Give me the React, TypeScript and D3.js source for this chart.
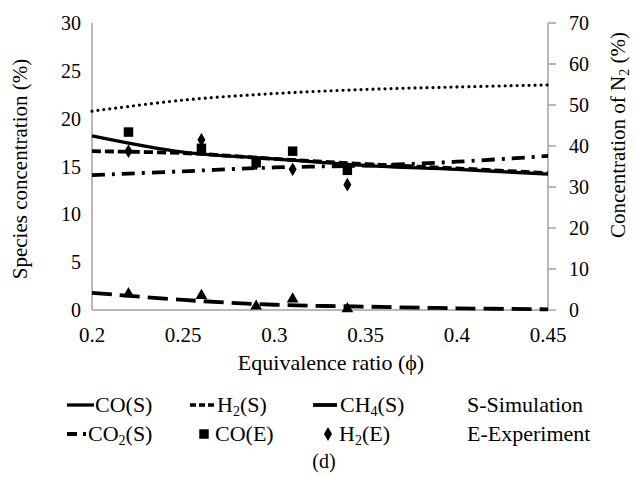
import * as d3 from 'd3'

const W = 634
const H = 477

// Simulation curves (S)
const phiSim = [0.2, 0.25, 0.3, 0.35, 0.4, 0.45]
const coSim = [18.2, 16.5, 15.8, 15.1, 14.7, 14.2]
const h2Sim = [16.6, 16.4, 15.8, 15.25, 14.8, 14.3]
const ch4Sim = [1.8, 1.05, 0.55, 0.35, 0.18, 0.07]
const co2Sim = [14.1, 14.5, 14.9, 15.1, 15.5, 16.1]
const n2Sim = [48.5, 51.2, 52.8, 53.8, 54.4, 54.9]

// Experiment points (E)
const phiExp = [0.22, 0.26, 0.29, 0.31, 0.34]
const coExp = [18.6, 16.9, 15.4, 16.6, 14.6]
const h2Exp = [16.6, 17.8, 15.3, 14.7, 13.1]
const ch4Exp = [1.7, 1.5, 0.4, 1.15, 0.12]

const xTicks = [0.2, 0.25, 0.3, 0.35, 0.4, 0.45]
const xTickLabels = ['0.2', '0.25', '0.3', '0.35', '0.4', '0.45']
const yLeftTicks = [0, 5, 10, 15, 20, 25, 30]
const yRightTicks = [0, 10, 20, 30, 40, 50, 60, 70]

const FONT = 'Liberation Serif'
const AXIS = '#a0a0a0'

export default function App() {
  const x = d3.scaleLinear().domain([0.2, 0.45]).range([92, 548])
  const yL = d3.scaleLinear().domain([0, 30]).range([310, 23])
  const yR = d3.scaleLinear().domain([0, 70]).range([310, 23])

  const curve = d3.curveCatmullRom.alpha(0.5)
  const lineL = (vals: number[]) =>
    d3
      .line<number>()
      .x((_, i) => x(phiSim[i]))
      .y((d) => yL(d))
      .curve(curve)(vals) || ''
  const lineR = (vals: number[]) =>
    d3
      .line<number>()
      .x((_, i) => x(phiSim[i]))
      .y((d) => yR(d))
      .curve(curve)(vals) || ''

  const square = d3.symbol(d3.symbolSquare, 90)() || ''
  const diamond = d3.symbol(d3.symbolDiamond, 55)() || ''
  const triangle = d3.symbol(d3.symbolTriangle, 60)() || ''

  const T = (props: any) => <text fontFamily={FONT} fill="#000" {...props} />

  return (
    <svg width={W} height={H} style={{ position: 'absolute', left: 0, top: 0, background: '#fff' }}>
      {/* axes */}
      <line x1={x(0.2)} x2={x(0.2)} y1={yL(30)} y2={yL(0)} stroke={AXIS} strokeWidth={1.5} />
      <line x1={x(0.2)} x2={x(0.45)} y1={yL(0)} y2={yL(0)} stroke={AXIS} strokeWidth={1.5} />
      <line x1={x(0.45)} x2={x(0.45)} y1={yR(70)} y2={yR(0)} stroke={AXIS} strokeWidth={1.5} />
      {yRightTicks.map((t) => (
        <line key={t} x1={x(0.45)} x2={x(0.45) + 8} y1={yR(t)} y2={yR(t)} stroke={AXIS} strokeWidth={1.5} />
      ))}

      {yLeftTicks.map((t) => (
        <T key={t} x={81} y={yL(t) + 7} textAnchor="end" fontSize={20}>
          {t}
        </T>
      ))}
      {yRightTicks.map((t) => (
        <T key={t} x={569} y={yR(t) + 7} textAnchor="start" fontSize={20}>
          {t}
        </T>
      ))}
      {xTicks.map((t, i) => (
        <T key={t} x={x(t)} y={342} textAnchor="middle" fontSize={21}>
          {xTickLabels[i]}
        </T>
      ))}

      <T x={331} y={370} textAnchor="middle" fontSize={22}>
        Equivalence ratio (ϕ)
      </T>
      <T transform="translate(27,169) rotate(-90)" textAnchor="middle" fontSize={21}>
        Species concentration (%)
      </T>
      <T transform="translate(625,135) rotate(-90)" textAnchor="middle" fontSize={21}>
        Concentration of N
        <tspan fontSize={14} dy={4}>2</tspan>
        <tspan dy={-4}> (%)</tspan>
      </T>

      {/* simulation lines */}
      <path d={lineR(n2Sim)} fill="none" stroke="#000" strokeWidth={3.2} strokeDasharray="0 6" strokeLinecap="round" />
      <path d={lineL(co2Sim)} fill="none" stroke="#000" strokeWidth={3.8} strokeDasharray="13 7 3 7" />
      <path d={lineL(h2Sim)} fill="none" stroke="#000" strokeWidth={3.8} strokeDasharray="9 4" />
      <path d={lineL(coSim)} fill="none" stroke="#000" strokeWidth={3.3} />
      <path d={lineL(ch4Sim)} fill="none" stroke="#000" strokeWidth={3.8} strokeDasharray="20 8" />

      {/* experiment markers */}
      {phiExp.map((p, i) => (
        <path key={'c' + i} d={square} transform={`translate(${x(p)},${yL(coExp[i])})`} fill="#000" />
      ))}
      {phiExp.map((p, i) => (
        <path key={'h' + i} d={diamond} transform={`translate(${x(p)},${yL(h2Exp[i])})`} fill="#000" />
      ))}
      {phiExp.map((p, i) => (
        <path key={'m' + i} d={triangle} transform={`translate(${x(p)},${yL(ch4Exp[i])})`} fill="#000" />
      ))}

      {/* legend */}
      <line x1={67} x2={94} y1={405} y2={405} stroke="#000" strokeWidth={3.3} />
      <T x={95} y={412} fontSize={22}>CO(S)</T>
      <line x1={190} x2={217} y1={405} y2={405} stroke="#000" strokeWidth={3.3} strokeDasharray="6 3" />
      <T x={217} y={412} fontSize={22}>
        H<tspan fontSize={14} dy={4}>2</tspan>
        <tspan dy={-4}>(S)</tspan>
      </T>
      <line x1={313} x2={337} y1={405} y2={405} stroke="#000" strokeWidth={3.8} />
      <T x={340} y={412} fontSize={22}>
        CH<tspan fontSize={14} dy={4}>4</tspan>
        <tspan dy={-4}>(S)</tspan>
      </T>
      <T x={467} y={412} fontSize={22}>S-Simulation</T>

      <line x1={67} x2={87} y1={434} y2={434} stroke="#000" strokeWidth={3.8} strokeDasharray="10 6 3 6" />
      <T x={88} y={441} fontSize={22}>
        CO<tspan fontSize={14} dy={4}>2</tspan>
        <tspan dy={-4}>(S)</tspan>
      </T>
      <path d={square} transform="translate(204,434)" fill="#000" />
      <T x={215} y={441} fontSize={22}>CO(E)</T>
      <path d={diamond} transform="translate(328,434)" fill="#000" />
      <T x={339} y={441} fontSize={22}>
        H<tspan fontSize={14} dy={4}>2</tspan>
        <tspan dy={-4}>(E)</tspan>
      </T>
      <T x={467} y={441} fontSize={22}>E-Experiment</T>

      <T x={324} y={468} textAnchor="middle" fontSize={20}>
        (d)
      </T>
    </svg>
  )
}
